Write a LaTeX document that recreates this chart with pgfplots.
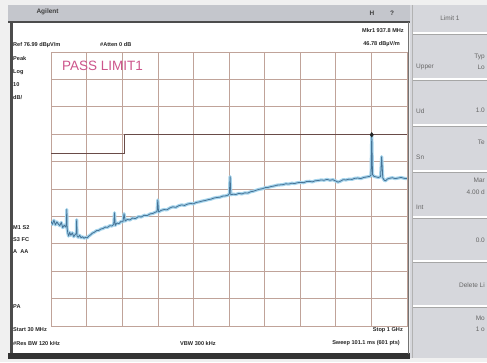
\documentclass[border=0pt]{standalone}
\usepackage{pgfplots}
\usepackage{pgfplotstable}
\pgfplotsset{compat=1.18}
\usepackage{fontspec}
\setmainfont{Liberation Sans}
\definecolor{gridc}{RGB}{192,163,153}
\definecolor{trace}{RGB}{70,115,150}
\definecolor{halo}{RGB}{165,212,236}
\definecolor{limitc}{RGB}{105,75,72}
\definecolor{passc}{RGB}{205,85,140}
\definecolor{panel}{RGB}{214,215,220}
\definecolor{titlebar}{RGB}{196,198,204}
\pgfplotstableread{
f d
30 15.2
34 14.1
38 15.6
42 13.9
46 15.0
50 14.2
54 13.6
58 14.8
62 12.9
66 13.8
70 13.1
72 14.5
73 19.5
74 12.5
76 10.8
78 9.8
81 11.2
84 10.1
88 11.0
92 9.6
96 10.4
99 10.8
100 15.8
101 9.9
104 9.4
108 10.1
112 9.2
116 9.6
120 9.0
124 9.4
128 9.1
133 9.8
138 10.3
143 10.9
148 11.2
154 11.8
160 11.9
166 12.4
172 12.6
178 13.1
184 13.0
190 13.6
196 13.5
201 14.1
203 18.3
205 13.7
210 14.6
215 14.3
220 15.1
226 15.0
229 18.0
232 15.3
238 15.9
245 15.7
252 16.4
260 16.2
268 16.9
276 16.8
284 17.4
292 17.3
300 17.9
308 18.1
314 18.5
319 18.8
321 23.0
323 18.6
330 19.2
338 19.5
346 19.4
354 20.1
362 20.5
370 20.3
378 20.9
386 21.2
394 21.0
402 21.5
410 21.7
418 21.6
426 22.1
434 22.3
442 22.6
450 22.8
458 23.1
466 23.3
474 23.7
482 23.9
490 24.0
498 24.4
506 24.5
513 24.8
516 25.3
518 31.5
520 24.9
526 25.1
534 25.0
542 25.4
550 25.2
558 25.6
566 25.5
574 26.0
582 26.2
590 26.6
598 26.9
606 27.1
614 27.5
622 27.6
630 27.9
638 28.1
646 28.4
654 28.5
662 28.6
670 28.9
678 28.8
686 29.1
694 29.0
702 29.3
710 29.4
718 29.3
726 29.7
734 29.8
742 29.6
750 30.0
758 30.1
766 30.3
774 30.2
782 30.5
790 30.2
798 30.4
806 29.9
812 29.5
818 29.8
826 30.4
834 30.3
842 30.6
850 30.5
858 30.9
866 31.0
874 30.8
882 31.2
890 31.4
898 31.6
902 32.0
904 46.8
906 32.3
910 31.6
916 31.4
922 31.2
928 31.5
931 38.8
934 31.1
938 30.2
942 30.0
946 30.6
952 30.9
960 31.1
968 30.8
976 31.0
984 31.2
992 30.9
1000 30.8
}\tracetable
\begin{document}
\begin{tikzpicture}[x=1pt,y=1pt]
\useasboundingbox (0,0) rectangle (487,362);
\fill[black!6] (0,0) rectangle (487,362);
% softkey panel
\fill[panel] (410,4) rectangle (487,357);
\foreach \yy in {329,283,237,191,145,101,56} {
  \draw[white, line width=1.2pt] (412,\yy) -- (487,\yy);
  \draw[black!35, line width=0.6pt] (412,\yy-1.2) -- (487,\yy-1.2);
}
\draw[black!30, line width=0.6pt] (412,4) -- (412,357);
% main window
\fill[white] (10,8) rectangle (409,340);
\fill[titlebar] (8,341) rectangle (410,357);
\draw[black!70, line width=1.8pt] (8,340) -- (410,340);
\draw[black!70, line width=3pt] (11.5,6) -- (11.5,341);
\fill[black!80] (8,3) rectangle (410,9);
\draw[black!55, line width=0.8pt] (408.6,8) -- (408.6,340);
% title bar text
\node[anchor=west, font=\bfseries\fontsize{6.5}{7}\selectfont, text=black!75] at (33,350) {Agilent};
\node[font=\bfseries\fontsize{6.5}{7}\selectfont, text=black!75] at (372,349) {H};
\node[font=\bfseries\fontsize{6.5}{7}\selectfont, text=black!75] at (392,349) {?};
% annotation text
\begin{scope}[every node/.style={font=\bfseries\fontsize{5.6}{6}\selectfont, text=black!85, inner sep=0pt}]
\node[anchor=west] at (13,317) {Ref 76.99 dB\textmu V/m};
\node[anchor=west] at (100,317) {\#Atten 0 dB};
\node[anchor=east] at (404,331) {Mkr1 937.8 MHz};
\node[anchor=east] at (400,318) {46.78 dB\textmu V/m};
\node[anchor=west] at (13,304) {Peak};
\node[anchor=west] at (13,290) {Log};
\node[anchor=west] at (13,277) {10};
\node[anchor=west] at (13,264) {dB/};
\node[anchor=west] at (13,134) {M1 S2};
\node[anchor=west] at (13,122) {S3 FC};
\node[anchor=west] at (13,110) {A\ \ AA};
\node[anchor=west] at (13,55) {PA};
\node[anchor=west] at (13,32) {Start 30 MHz};
\node[anchor=west] at (13,19) {\#Res BW 120 kHz};
\node[anchor=west] at (180,19) {VBW 300 kHz};
\node[anchor=east] at (403,32) {Stop 1 GHz};
\node[anchor=east] at (400,19) {Sweep 101.1 ms (601 pts)};
\end{scope}
% softkey text (only the parts visible in the cropped screenshot)
\begin{scope}[every node/.style={font=\fontsize{6.5}{7}\selectfont, text=black!60, inner sep=0pt}]
\node at (450,344) {Limit 1};
\node[anchor=east] at (485,305) {Typ};
\node[anchor=west] at (416,295) {Upper};
\node[anchor=east] at (485,295) {Lo};
\node[anchor=east] at (485,252) {1.0};
\node[anchor=west] at (416,251) {Ud};
\node[anchor=east] at (485,220) {Te};
\node[anchor=west] at (416,205) {Sn};
\node[anchor=east] at (485,182) {Mar};
\node[anchor=east] at (485,170) {4.00 d};
\node[anchor=west] at (416,155) {Int};
\node[anchor=east] at (485,122) {0.0};
\node[anchor=east] at (485,77) {Delete Li};
\node[anchor=east] at (485,44) {Mo};
\node[anchor=east] at (485,33) {1 o};
\end{scope}
\begin{axis}[
  at={(51pt,36pt)}, anchor=south west,
  width=356pt, height=274pt, scale only axis,
  xmin=30, xmax=1000, ymin=-23, ymax=77,
  xtick={30,127,224,321,418,515,612,709,806,903,1000},
  ytick={-23,-13,-3,7,17,27,37,47,57,67,77},
  xticklabels={}, yticklabels={},
  major tick length=0pt,
  grid=major,
  major grid style={gridc, line width=0.6pt},
  axis line style={gridc, line width=0.9pt},
  clip=true,
]
\addplot[halo, line width=3.2pt, line join=round] table[x=f,y=d] {\tracetable};
\addplot[trace, line width=0.8pt, line join=round] table[x=f,y=d] {\tracetable};
\addplot[limitc, line width=1.1pt, const plot] coordinates {(30,40) (230,40) (230,47) (1000,47)};
\addplot[only marks, mark=diamond*, mark size=2.3pt, black!85] coordinates {(904,46.8)};
\node[anchor=west, font=\fontsize{13.5}{14}\selectfont, text=passc, inner sep=0pt] at (axis cs:60,72) {PASS LIMIT1};
\end{axis}
\end{tikzpicture}
\end{document}
